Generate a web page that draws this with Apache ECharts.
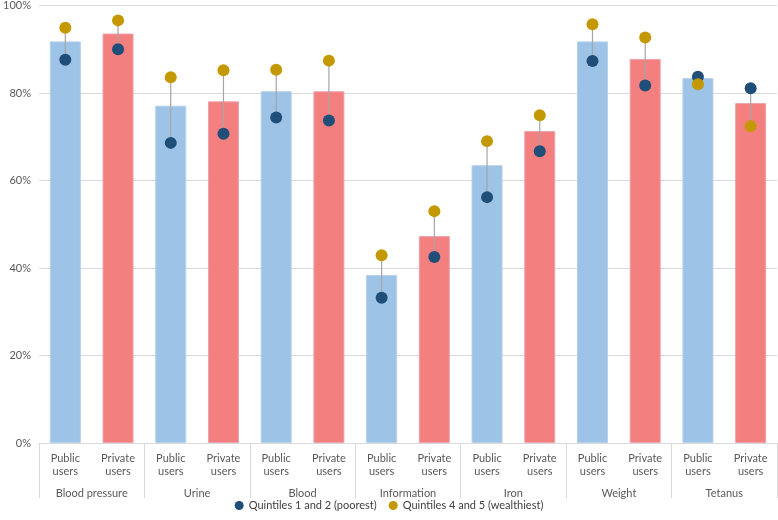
<!DOCTYPE html>
<html>
<head>
<meta charset="utf-8">
<script src="https://cdn.jsdelivr.net/npm/echarts@6/dist/echarts.min.js"></script>
<style>html,body{margin:0;padding:0;background:#fff}#c{width:778px;height:520px}</style>
</head>
<body>
<div id="c"></div>
<script>
var groups = ['Blood pressure', 'Urine', 'Blood', 'Information', 'Iron', 'Weight', 'Tetanus'];
var userTypes = ['Public\nusers', 'Private\nusers'];
var barValues = [91.8, 93.6, 77.1, 78.1, 80.4, 80.4, 38.4, 47.3, 63.5, 71.3, 91.8, 87.8, 83.4, 77.7];
var poorest = [87.6, 90.0, 68.6, 70.7, 74.4, 73.7, 33.2, 42.5, 56.2, 66.7, 87.3, 81.7, 83.7, 81.1];
var wealthiest = [94.9, 96.6, 83.6, 85.2, 85.3, 87.4, 42.9, 53.0, 69.0, 74.9, 95.7, 92.7, 82.0, 72.4];
var yTicks = [0, 20, 40, 60, 80, 100];

var categories = [];
groups.forEach(function () { userTypes.forEach(function (u) { categories.push(u); }); });
var barColors = ['#9DC3E6', '#F47F7F'];
var barData = barValues.map(function (v, i) {
  return { value: v, itemStyle: { color: barColors[i % 2], borderColor: i % 2 ? '#E9A3AE' : '#B7D0EA', borderWidth: 1 } };
});
var linkData = poorest.map(function (v, i) { return [i, v, wealthiest[i]]; });

var chart = echarts.init(document.getElementById('c'), null, { renderer: 'canvas' });
var font = 'Lato, "Open Sans", sans-serif';
chart.setOption({
  animation: false,
  textStyle: { fontFamily: font },
  grid: { left: 36, right: 1, top: 5, bottom: 77, containLabel: false },
  legend: {
    bottom: 4, left: 'center', itemWidth: 9, itemHeight: 9, itemGap: 12,
    textStyle: { fontFamily: font, fontSize: 11, color: '#404040' },
    data: [
      { name: 'Quintiles 1 and 2 (poorest)', icon: 'circle' },
      { name: 'Quintiles 4 and 5 (wealthiest)', icon: 'circle' }
    ]
  },
  xAxis: [
    {
      type: 'category', data: categories, position: 'bottom',
      axisLine: { show: true, lineStyle: { color: '#D9D9D9' } },
      axisTick: { show: false },
      axisLabel: { interval: 0, fontFamily: font, fontSize: 11, lineHeight: 13, color: '#595959', margin: 9 }
    },
    {
      type: 'category', data: groups, position: 'bottom',
      axisLine: { show: false },
      axisTick: { show: true, length: 55, lineStyle: { color: '#D9D9D9' } },
      axisLabel: { interval: 0, fontFamily: font, fontSize: 11, color: '#595959', margin: 45 }
    }
  ],
  yAxis: {
    type: 'value', min: 0, max: 100, interval: 20,
    axisLine: { show: false }, axisTick: { show: false },
    splitLine: { lineStyle: { color: '#D9D9D9' } },
    axisLabel: {
      fontFamily: font, fontSize: 11, color: '#595959', margin: 8,
      formatter: function (v) { return yTicks.indexOf(v) >= 0 ? v + '%' : ''; }
    }
  },
  series: [
    { type: 'bar', xAxisIndex: 0, data: barData, barWidth: 31, z: 1 },
    {
      type: 'custom', xAxisIndex: 0, z: 2, data: linkData, silent: true,
      renderItem: function (params, api) {
        var p1 = api.coord([api.value(0), api.value(1)]);
        var p2 = api.coord([api.value(0), api.value(2)]);
        return { type: 'line', shape: { x1: p1[0], y1: p1[1], x2: p2[0], y2: p2[1] }, style: { stroke: '#A6A6A6', lineWidth: 1.2 } };
      }
    },
    {
      name: 'Quintiles 1 and 2 (poorest)', type: 'scatter', xAxisIndex: 0, z: 3,
      symbol: 'circle', symbolSize: 12, data: poorest, itemStyle: { color: '#1F4E79', opacity: 1 }
    },
    {
      name: 'Quintiles 4 and 5 (wealthiest)', type: 'scatter', xAxisIndex: 0, z: 4,
      symbol: 'circle', symbolSize: 12, data: wealthiest, itemStyle: { color: '#C49800', opacity: 1 }
    }
  ]
});
</script>
</body>
</html>
